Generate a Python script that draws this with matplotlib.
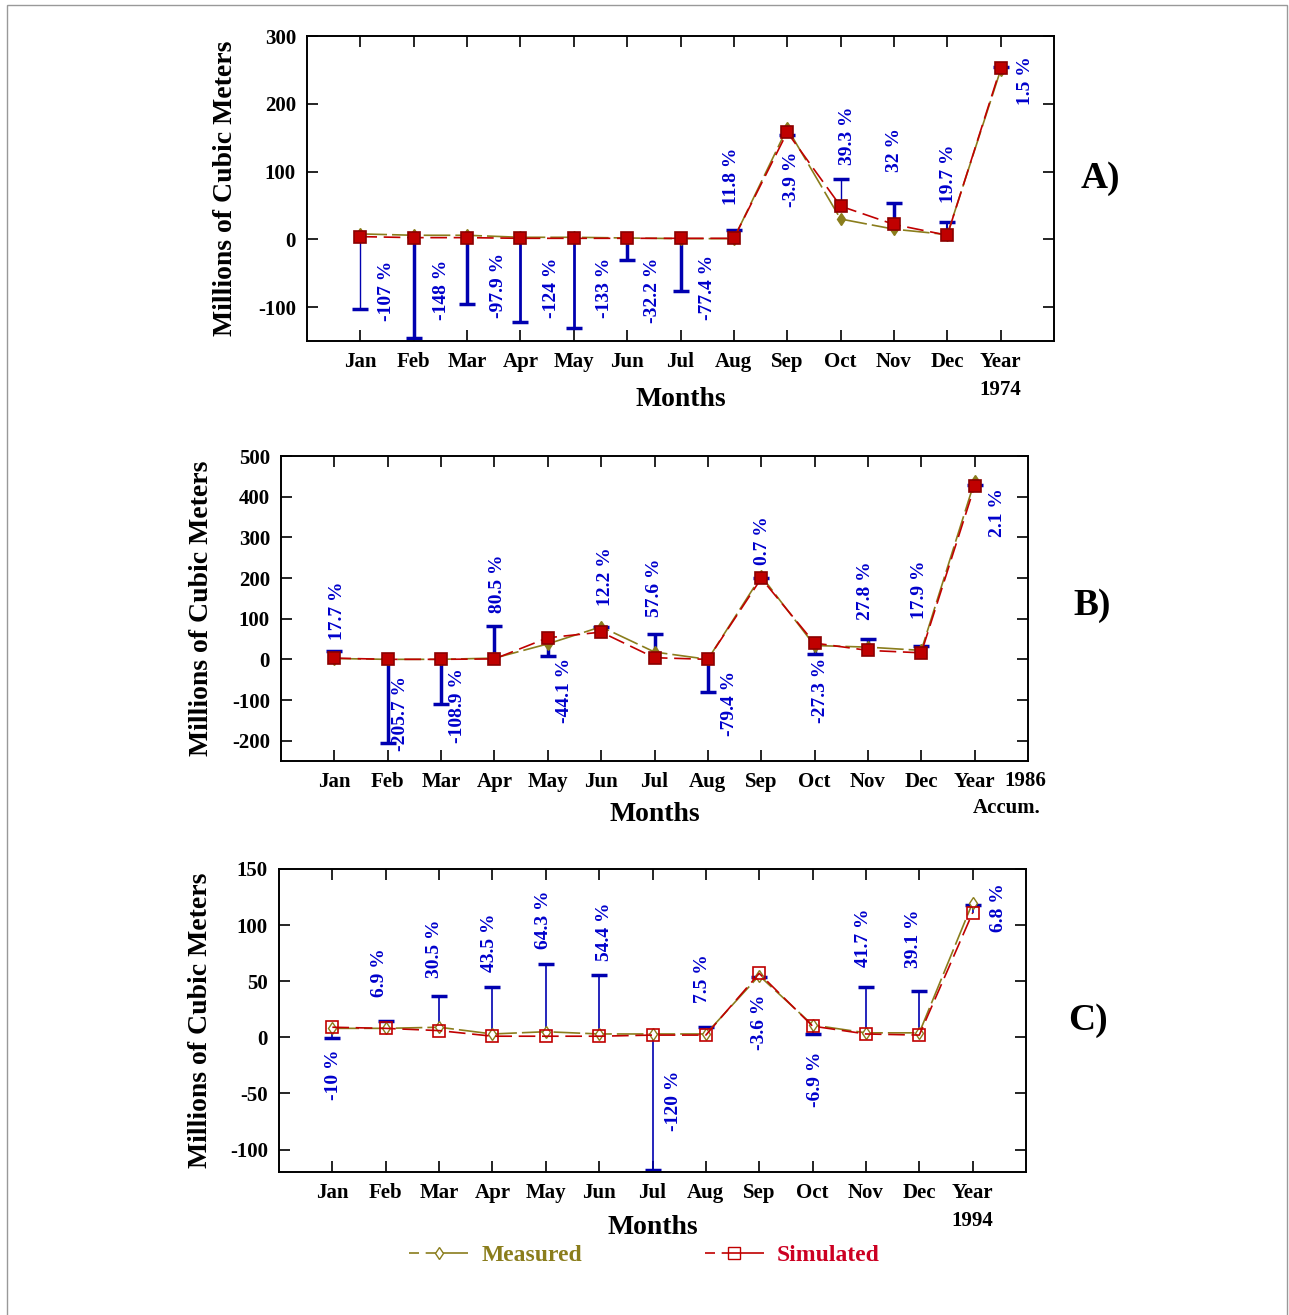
import numpy as np
import matplotlib
matplotlib.use('Agg')
import matplotlib.pyplot as plt
from matplotlib.lines import Line2D
from matplotlib.patches import Rectangle
import matplotlib.transforms as mtransforms

plt.rcParams['font.family'] = ['Liberation Serif', 'DejaVu Serif']
plt.rcParams['font.weight'] = 'bold'
plt.rcParams['axes.unicode_minus'] = False

# Data (millions of cubic meters)
months = ['Jan', 'Feb', 'Mar', 'Apr', 'May', 'Jun', 'Jul', 'Aug', 'Sep', 'Oct', 'Nov', 'Dec', 'Year']
x = np.arange(1, 14)

# A) 1974
meas_a = [8, 6, 6, 3, 3, 2, 1, 1, 164, 30, 15, 7, 250]
sim_a = [4, 2.5, 2.5, 1.5, 1.5, 1.5, 1.5, 1.5, 158, 49, 22, 6, 253]
pct_a = [-107, -148, -97.9, -124, -133, -32.2, -77.4, 11.8, -3.9, 39.3, 32, 19.7, 1.5]
labx_a = [1.49, 2.52, 3.59, 4.58, 5.57, 6.47, 7.5, 7.95, 9.08, 10.13, 11.01, 12.03, 13.47]
laby_a = [-76, -75, -68, -71, -72, -75, -71, 93, 88, 153, 132, 97, 234]

# B) 1986
meas_b = [2, 0, 0, 3, 38, 80, 18, 0, 205, 34, 30, 22, 438]
sim_b = [3, 0, 0, 1, 53, 67, 4, 0, 199, 40, 22, 16, 426]
pct_b = [17.7, -205.7, -108.9, 80.5, -44.1, 12.2, 57.6, -79.4, 0.7, -27.3, 27.8, 17.9, 2.1]
labx_b = [1.05, 2.24, 3.3, 4.05, 5.31, 6.08, 7.0, 8.4, 9.02, 10.12, 10.95, 11.96, 13.42]
laby_b = [120, -133, -113, 187, -77, 204, 175, -108, 292, -77, 170, 170, 361]

# C) 1994
meas_c = [8, 8, 9, 3, 5, 3, 3, 3, 55, 11, 4, 4, 120]
sim_c = [9, 8, 6, 1, 1, 1, 2, 2, 57, 10, 3, 2, 111]
pct_c = [-10, 6.9, 30.5, 43.5, 64.3, 54.4, -120, 7.5, -3.6, -6.9, 41.7, 39.1, 6.8]
labx_c = [1.02, 1.88, 2.92, 3.94, 4.96, 6.1, 7.4, 7.94, 9.0, 10.06, 10.95, 11.9, 13.49]
laby_c = [-33, 58, 79, 84, 105, 94, -57, 52, 13, -37, 89, 88, 116]

W, H = 1289, 1315
fig = plt.figure(figsize=(W / 100, H / 100), dpi=100)

olive = '#8a7d1c'
red = '#c00000'
blue = '#0000b0'


def panel(rect, meas, sim, pct, labx, laby, ylim, yticks, bar_lw, filled, xpad, ypad):
    ax = fig.add_axes(rect)
    sim = np.array(sim, dtype=float)
    ends = sim + np.array(pct)
    # error bars (blue) from simulated value
    ax.vlines(x, sim, ends, colors=blue, lw=bar_lw, zorder=2)
    ax.plot(x, ends, ls='none', marker='_', ms=11, mew=2.5, color=blue, zorder=2)
    # measured
    ax.plot(x, meas, color=olive, lw=1.2, ls=(0, (16, 3)), marker='d', ms=6,
            mfc=olive if filled else 'white', mec=olive, zorder=3)
    # simulated
    ax.plot(x, sim, color=red, lw=1.2, ls=(0, (10, 4)), marker='s', ms=8 if filled else 9,
            mfc=red if filled else 'none', mec='#8b0000' if filled else red, mew=1.2, zorder=4)
    for xi, yi, p in zip(labx, laby, pct):
        ax.text(xi, yi, f'{p:g} %', rotation=90, ha='center', va='center',
                color='#0000cc', fontsize=14, fontweight='bold')
    ax.set_xlim(0, 14)
    ax.set_ylim(*ylim)
    ax.set_yticks(yticks)
    ax.set_xticks(x)
    ax.set_xticklabels(months)
    ax.tick_params(direction='in', top=True, right=True, length=8, width=1.2,
                   labelsize=15, pad=8)
    for s in ax.spines.values():
        s.set_linewidth(1.4)
    ax.set_xlabel('Months', fontsize=20, fontweight='bold', labelpad=xpad)
    ax.set_ylabel('Millions of Cubic Meters', fontsize=20, fontweight='bold', labelpad=ypad)
    return ax


ax_a = panel([307 / W, 1 - 341 / H, 747 / W, 305 / H], meas_a, sim_a, pct_a, labx_a, laby_a,
             (-150, 300), [-100, 0, 100, 200, 300],
             [1, 2.5, 2.5, 2, 2, 2.5, 2.5, 2.5, 2.5, 1, 2.5, 1.5, 2.5], True, 11, 14)
ax_b = panel([281 / W, 1 - 761 / H, 747 / W, 305 / H], meas_b, sim_b, pct_b, labx_b, laby_b,
             (-250, 500), np.arange(-200, 501, 100), 2.5, True, 7, 13)
ax_c = panel([279 / W, 1 - 1172 / H, 747 / W, 303 / H], meas_c, sim_c, pct_c, labx_c, laby_c,
             (-120, 150), np.arange(-100, 151, 50), 1.2, False, 8.5, 12)

# extra text under the "Year" tick
tr_a = mtransforms.blended_transform_factory(ax_a.transData, ax_a.transAxes)
ax_a.text(13, -0.128, '1974', transform=tr_a, ha='center', va='top', fontsize=15, fontweight='bold')
tr_b = mtransforms.blended_transform_factory(ax_b.transData, ax_b.transAxes)
ax_b.text(13.56, -0.033, '1986', transform=tr_b, ha='left', va='top', fontsize=15, fontweight='bold')
ax_b.text(13.6, -0.12, 'Accum.', transform=tr_b, ha='center', va='top', fontsize=15, fontweight='bold')
tr_c = mtransforms.blended_transform_factory(ax_c.transData, ax_c.transAxes)
ax_c.text(13, -0.128, '1994', transform=tr_c, ha='center', va='top', fontsize=15, fontweight='bold')

fig.text(1100 / W, 1 - 178 / H, 'A)', fontsize=27, fontweight='bold', ha='center', va='center')
fig.text(1092 / W, 1 - 605 / H, 'B)', fontsize=27, fontweight='bold', ha='center', va='center')
fig.text(1088 / W, 1 - 1020 / H, 'C)', fontsize=27, fontweight='bold', ha='center', va='center')

handles = [
    Line2D([], [], color=olive, lw=1.2, ls=(0, (6, 4, 40, 1)), marker='d', ms=6, mfc='white', mec=olive),
    Line2D([], [], color=red, lw=1.2, ls=(0, (6, 4, 40, 1)), marker='s', ms=8, mfc='none', mec=red),
]
leg = fig.legend(handles, ['Measured', 'Simulated'], loc='center', bbox_to_anchor=(0.5, 1 - 1255 / H),
                 ncol=2, frameon=False, fontsize=17, handlelength=2.5, handletextpad=0.55,
                 columnspacing=5.2)
for t, c in zip(leg.get_texts(), [olive, '#cc0022']):
    t.set_color(c)
    t.set_fontweight('bold')

fig.patches.append(Rectangle((7 / W, -0.01), 1 - 9 / W, 1 - 5 / H + 0.01, transform=fig.transFigure,
                             fill=False, edgecolor='#999999', lw=1))

fig.savefig('out.png', dpi=100)
